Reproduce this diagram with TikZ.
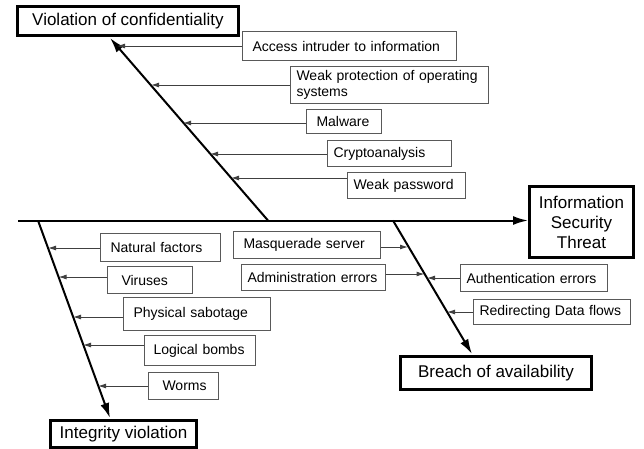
\documentclass[tikz,border=0pt]{standalone}
\usepackage{fontspec}
\setmainfont{Liberation Sans}
\usepackage{tikz}
\usetikzlibrary{arrows.meta,calc,positioning}

\tikzset{
  cause/.style={draw=black!65, line width=1pt, anchor=north west, inner xsep=6pt, inner ysep=0pt, align=left, font=\fontsize{14}{16}\selectfont},
  effect/.style={draw, line width=3pt, anchor=north west, inner sep=0pt, align=center, font=\fontsize{17}{20}\selectfont},
  bone/.style={line width=2pt, -{Latex[length=15pt,width=9pt]}},
  feed/.style={draw=black!75, line width=1pt, -{Latex[length=8pt,width=5pt]}}
}

\begin{document}
\begin{tikzpicture}[x=1pt,y=-1pt]
\useasboundingbox (0,0) rectangle (644,448);
\node[effect,minimum width=221pt,minimum height=29pt] (conf) at (16,5) {Violation of confidentiality};
\node[effect,minimum width=104pt,minimum height=71pt] (threat) at (528,185) {Information\\Security\\Threat};
\node[effect,minimum width=146pt,minimum height=27pt] (integ) at (49,419) {Integrity violation};
\node[effect,minimum width=191pt,minimum height=33pt] (breach) at (399,355) {Breach of availability};
\node[cause,inner xsep=10pt,text width=194pt,minimum height=29pt] (acc) at (242,31) {Access intruder to information};
\node[cause,text width=186pt,minimum height=37pt] (wpos) at (290,66) {Weak protection of operating\\systems};
\node[cause,inner xsep=10pt,text width=55pt,minimum height=24pt] (mal) at (306,109) {Malware};
\node[cause,text width=112pt,minimum height=26pt] (cry) at (327,140) {Cryptoanalysis};
\node[cause,text width=106pt,minimum height=26pt] (wpw) at (347,172) {Weak password};
\node[cause,inner xsep=10pt,text width=100pt,minimum height=28pt] (nat) at (100,233) {Natural factors};
\node[cause,text width=73pt,minimum height=27pt] (vir) at (107,266) {\hspace{8pt}Viruses};
\node[cause,inner xsep=10pt,text width=127pt,minimum height=33pt] (phy) at (123,297) {Physical sabotage};
\node[cause,inner xsep=9pt,text width=93pt,minimum height=30pt] (log) at (144,335) {Logical bombs};
\node[cause,text width=58pt,minimum height=27pt] (wor) at (148,372) {\hspace{8pt}Worms};
\node[cause,inner xsep=10pt,text width=127pt,minimum height=27pt] (masq) at (233,231) {Masquerade server};
\node[cause,text width=132pt,minimum height=26pt] (adm) at (241,264) {Administration errors};
\node[cause,text width=135pt,minimum height=27pt] (auth) at (460,264) {Authentication errors};
\node[cause,text width=145pt,minimum height=25pt] (redir) at (473,299) {Redirecting Data flows};
\coordinate (s0) at (18,220.5);
\coordinate (s1) at (268,220.5);
\coordinate (s2) at (38,220.5);
\coordinate (s3) at (393,220.5);
\coordinate (t1) at (110,38);
\coordinate (t2) at (110,418);
\coordinate (t3) at (472,354);
\coordinate (c1) at (117,46);
\coordinate (c2) at (151,85);
\coordinate (c3) at (183,123);
\coordinate (c4) at (210,154);
\coordinate (c5) at (231,178);
\coordinate (l1) at (48,248);
\coordinate (l2) at (58.5,277);
\coordinate (l3) at (73,317);
\coordinate (l4) at (83,345);
\coordinate (l5) at (98,386);
\coordinate (r1) at (408,247);
\coordinate (r2) at (424.5,274);
\coordinate (r3) at (427,278);
\coordinate (r4) at (447,312);
\draw[bone] (s0) -- (s0 -| threat.west);
\draw[bone] (s1) -- (t1);
\draw[bone] (s2) -- (t2);
\draw[bone] (s3) -- (t3);
\draw[feed] (acc.west |- c1) -- (c1);
\draw[feed] (wpos.west |- c2) -- (c2);
\draw[feed] (mal.west |- c3) -- (c3);
\draw[feed] (cry.west |- c4) -- (c4);
\draw[feed] (wpw.west |- c5) -- (c5);
\draw[feed] (nat.west |- l1) -- (l1);
\draw[feed] (vir.west |- l2) -- (l2);
\draw[feed] (phy.west |- l3) -- (l3);
\draw[feed] (log.west |- l4) -- (l4);
\draw[feed] (wor.west |- l5) -- (l5);
\draw[feed] (masq.east |- r1) -- (r1);
\draw[feed] (adm.east |- r2) -- (r2);
\draw[feed] (auth.west |- r3) -- (r3);
\draw[feed] (redir.west |- r4) -- (r4);
\end{tikzpicture}
\end{document}
